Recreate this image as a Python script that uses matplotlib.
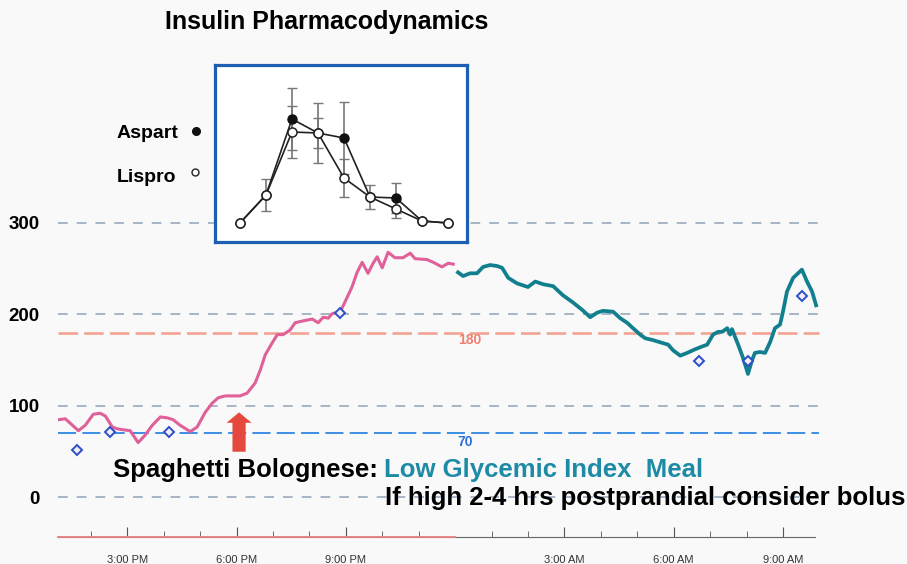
import numpy as np
import matplotlib.pyplot as plt

plt.rcParams['font.family'] = ['Liberation Sans', 'DejaVu Sans']
plt.rcParams['lines.scale_dashes'] = False

# CGM trace, hours from midnight of day 1 (24 = midnight)
pink_hours = [13.11, 13.30, 13.44, 13.66, 13.85, 14.07, 14.26, 14.40, 14.59, 14.73,
              14.89, 15.08, 15.30, 15.49, 15.69, 15.91, 16.10, 16.26, 16.45, 16.73,
              16.92, 17.14, 17.33, 17.50, 17.69, 17.91, 18.10, 18.29, 18.51, 18.65,
              18.79, 18.98, 19.12, 19.28, 19.47, 19.61, 19.83, 20.08, 20.24, 20.38,
              20.52, 20.63, 20.85, 21.04, 21.17, 21.31, 21.45, 21.61, 21.75, 21.86,
              22.00, 22.16, 22.35, 22.57, 22.77, 22.90, 23.23, 23.40, 23.64, 23.81, 23.95]
pink_glucose = [85, 86, 81, 73, 79, 91, 92, 89, 77, 75,
                74, 73, 60, 68, 79, 88, 87, 85, 79, 72,
                77, 93, 103, 109, 111, 111, 111, 114, 125, 139,
                156, 169, 178, 178, 183, 191, 193, 195, 191, 197,
                196, 201, 203, 219, 230, 246, 257, 245, 256, 263,
                251, 268, 262, 262, 267, 261, 260, 257, 252, 256, 255]

teal_hours = [24.08, 24.22, 24.41, 24.60, 24.77, 24.96, 25.15, 25.29, 25.46, 25.70,
              26.00, 26.20, 26.42, 26.69, 26.96, 27.24, 27.49, 27.71, 27.90, 28.06,
              28.34, 28.53, 28.72, 28.94, 29.08, 29.22, 29.43, 29.68, 29.85, 29.98,
              30.18, 30.37, 30.59, 30.78, 30.92, 31.08, 31.22, 31.33, 31.47, 31.55,
              31.60, 31.77, 31.90, 32.04, 32.15, 32.23, 32.37, 32.51, 32.65, 32.78,
              32.92, 33.00, 33.11, 33.28, 33.52, 33.66, 33.80, 33.91]
teal_glucose = [246, 242, 245, 245, 252, 254, 253, 251, 240, 234,
                230, 236, 233, 231, 221, 213, 205, 197, 202, 204,
                203, 196, 191, 183, 178, 174, 172, 169, 167, 161,
                155, 158, 162, 165, 167, 178, 181, 181, 185, 178,
                184, 167, 153, 135, 150, 158, 159, 158, 170, 185,
                189, 203, 225, 240, 249, 236, 225, 210]

# fingerstick readings
fs_hours = [13.63, 14.53, 16.15, 20.85, 30.70, 32.04, 33.52]
fs_glucose = [52, 72, 72, 202, 149, 149, 220]

grid_levels = [0, 100, 200, 300]
high_level = 180
low_level = 70
meal_time = 18.07
meal_arrow = (50, 93)

major_hours = [15, 18, 21, 27, 30, 33]
major_labels = ['3:00 PM', '6:00 PM', '9:00 PM', '3:00 AM', '6:00 AM', '9:00 AM']
minor_hours = [14, 16, 17, 19, 20, 22, 23, 25, 26, 28, 29, 31, 32]

# inset: insulin action profiles
inset_idx = np.arange(9)
aspart = [0, 28, 104, 90, 85, 26, 25, 2, 0]
lispro = [0, 28, 91, 90, 45, 26, 14, 2, 0]
aspart_err = [0, 0, 31, 30, 36, 0, 15, 0, 0]
lispro_err = [0, 16, 26, 15, 19, 12, 9, 0, 0]

fig = plt.figure(figsize=(9.07, 5.64), dpi=100, facecolor='#f9f9f9')
ax = fig.add_axes([58/907, 27/564, 849/907, 537/564])
ax.set_facecolor('none')
ax.set_xlim(13.1, 36.405)
ax.set_ylim(-43.2, 543.7)

line_start, line_end = 13.1, 34.0
ax.hlines(grid_levels, line_start, line_end, colors='#98a9bc', lw=1.2,
          linestyles=[(0, (7, 6.5))])
ax.hlines(high_level, line_start, line_end, colors='#f3a393', lw=1.9,
          linestyles=[(0, (14, 4.5))])
ax.hlines(low_level, line_start, line_end, colors='#3b8ee6', lw=1.4,
          linestyles=[(0, (13, 4.5))])
ax.text(24.07, 172, str(high_level), color='#f08070', fontsize=10,
        fontweight='bold', va='center')
ax.text(24.07, 61, str(low_level), color='#2a6fd6', fontsize=10,
        fontweight='bold', va='center')

ax.plot(pink_hours, pink_glucose, color='#e0609a', lw=2.2, zorder=4)
ax.plot(teal_hours, teal_glucose, color='#117f8e', lw=2.7, zorder=4)
ax.plot(fs_hours, fs_glucose, 'D', ms=5, mfc='#f4eef8', mec='#2a4fc8',
        mew=1.4, zorder=5)

ax.annotate('', xy=(meal_time, meal_arrow[1]), xytext=(meal_time, meal_arrow[0]),
            arrowprops=dict(arrowstyle='simple,head_width=1.8,head_length=0.75,tail_width=0.95',
                            fc='#e5483c', ec='none', shrinkA=0, shrinkB=0))

# time axis
for s in ['top', 'right', 'left']:
    ax.spines[s].set_visible(False)
ax.spines['bottom'].set_bounds(13.1, 33.88)
ax.spines['bottom'].set_color('#666666')
ybot = ax.get_ylim()[0]
ax.plot([13.1, 24.0], [ybot, ybot], color='#e88080', lw=1.3, clip_on=False, zorder=3)
ax.set_xticks(major_hours, labels=major_labels)
ax.set_xticks(minor_hours, minor=True)
ax.tick_params(axis='x', which='major', direction='in', length=7, color='#555555',
               pad=13, labelsize=8, labelcolor='#333333')
ax.tick_params(axis='x', which='minor', direction='in', length=4, color='#555555')
ax.set_yticks(grid_levels)
ax.tick_params(axis='y', length=0, pad=13, labelsize=13.5)
for lbl in ax.get_yticklabels():
    lbl.set_fontweight('bold')

# inset
iax = fig.add_axes([215/907, 1 - 242/564, 252/907, 177/564])
iax.set_facecolor('white')
iax.set_xlim(-0.96, 8.73)
iax.set_ylim(-19, 158)
iax.set_xticks([])
iax.set_yticks([])
for s in iax.spines.values():
    s.set_color('#1d5fb0')
    s.set_linewidth(2.3)

a_mask = np.array(aspart_err) > 0
l_mask = np.array(lispro_err) > 0
iax.errorbar(inset_idx[a_mask], np.array(aspart)[a_mask], yerr=np.array(aspart_err)[a_mask],
             fmt='none', ecolor='#777777', elinewidth=1.2, capsize=3.5)
iax.errorbar(inset_idx[l_mask], np.array(lispro)[l_mask], yerr=np.array(lispro_err)[l_mask],
             fmt='none', ecolor='#777777', elinewidth=1.2, capsize=3.5)
iax.plot(inset_idx, aspart, '-o', color='#222222', lw=1.2, ms=6.5,
         mfc='#111111', mec='#111111')
iax.plot(inset_idx, lispro, '-o', color='#222222', lw=1.2, ms=6.5,
         mfc='white', mec='#222222', mew=1.1)

# labels
fig.text(117/907, 1 - 133/564, 'Aspart', fontsize=14, fontweight='bold', va='center')
fig.text(117/907, 1 - 177/564, 'Lispro', fontsize=14, fontweight='bold', va='center')
ax.plot([196/907], [1 - 131/564], 'o', ms=5.5, color='#111111',
        transform=fig.transFigure, clip_on=False)
ax.plot([195/907], [1 - 172/564], 'o', ms=5, mfc='white', mec='#222222',
        transform=fig.transFigure, clip_on=False)

fig.text(165/907, 1 - 22/564, 'Insulin Pharmacodynamics', fontsize=18,
         fontweight='bold', va='center')
fig.text(113/907, 1 - 470/564, 'Spaghetti Bolognese:', fontsize=18.5,
         fontweight='bold', va='center')
fig.text(384/907, 1 - 470/564, 'Low Glycemic Index  Meal', fontsize=18.5,
         fontweight='bold', va='center', color='#1e8ba6')
fig.text(385/907, 1 - 498/564, 'If high 2-4 hrs postprandial consider bolus',
         fontsize=18.5, fontweight='bold', va='center')

fig.savefig('out.png', dpi=100, facecolor=fig.get_facecolor())
